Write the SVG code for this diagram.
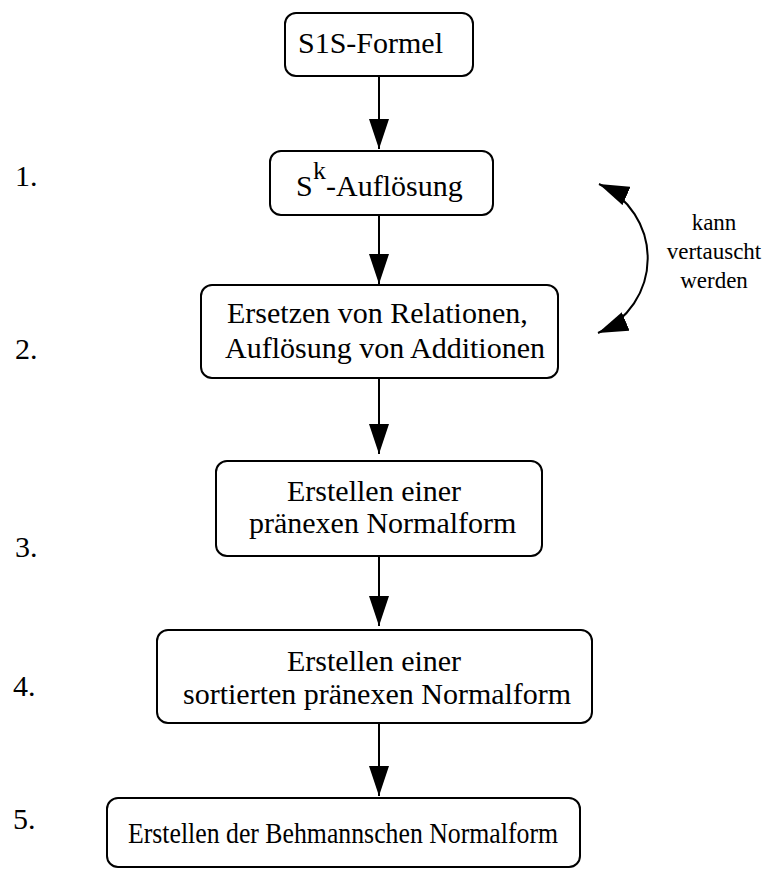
<svg xmlns="http://www.w3.org/2000/svg" width="769" height="869" viewBox="0 0 769 869">
  <style>
    .box { fill: #ffffff; stroke: #000000; stroke-width: 2; }
    .lbl { font-family: "Liberation Serif", "Times New Roman", serif; font-size: 30px; fill: #000000; }
    .num { font-family: "Liberation Serif", "Times New Roman", serif; font-size: 30px; fill: #000000; }
    .note { font-family: "Liberation Serif", "Times New Roman", serif; font-size: 23px; fill: #000000; text-anchor: middle; }
    .edge { fill: none; stroke: #000000; stroke-width: 2; }
  </style>
  <defs>
    <marker id="head" markerUnits="userSpaceOnUse" markerWidth="30" markerHeight="20" viewBox="0 0 30 20" refX="30" refY="10" orient="auto-start-reverse">
      <path d="M0,0 L30,10 L0,20 z" fill="#000000"/>
    </marker>
  </defs>

  <rect width="769" height="869" fill="#ffffff"/>

  <!-- step numbers -->
  <g id="steps">
    <text class="num" x="15" y="186">1.</text>
    <text class="num" x="15" y="359">2.</text>
    <text class="num" x="15" y="557">3.</text>
    <text class="num" x="13" y="696">4.</text>
    <text class="num" x="13" y="829">5.</text>
  </g>

  <g id="n0">
    <rect class="box" x="285" y="13" width="188" height="63" rx="11"/>
    <text class="lbl" x="298" y="53">S1S-Formel</text>
  </g>

  <g id="n1">
    <rect class="box" x="270" y="151" width="223" height="64" rx="11"/>
    <text class="lbl" x="296" y="196">S</text>
    <text class="lbl" x="313" y="179" style="font-size:26px">k</text>
    <text class="lbl" x="326" y="196">-Auflösung</text>
  </g>

  <g id="n2">
    <rect class="box" x="201" y="285" width="357" height="93" rx="11"/>
    <text class="lbl" x="227" y="323">Ersetzen von Relationen,</text>
    <text class="lbl" x="225" y="358">Auflösung von Additionen</text>
  </g>

  <g id="n3">
    <rect class="box" x="216" y="461" width="326" height="95" rx="11"/>
    <text class="lbl" x="287" y="501">Erstellen einer</text>
    <text class="lbl" x="249" y="533">pränexen Normalform</text>
  </g>

  <g id="n4">
    <rect class="box" x="157" y="630" width="435" height="93" rx="11"/>
    <text class="lbl" x="287" y="671">Erstellen einer</text>
    <text class="lbl" x="183" y="704">sortierten pränexen Normalform</text>
  </g>

  <g id="n5">
    <rect class="box" x="107" y="798" width="473" height="69" rx="11"/>
    <text class="lbl" x="128" y="843" textLength="430" lengthAdjust="spacingAndGlyphs">Erstellen der Behmannschen Normalform</text>
  </g>

  <g id="connectors">
    <path class="edge" d="M379,76 L379,149" marker-end="url(#head)"/>
    <path class="edge" d="M379,215 L379,284" marker-end="url(#head)"/>
    <path class="edge" d="M379,378 L379,454" marker-end="url(#head)"/>
    <path class="edge" d="M379,556 L379,626" marker-end="url(#head)"/>
    <path class="edge" d="M379,723 L379,796" marker-end="url(#head)"/>
    <!-- double-headed arc: steps 1 and 2 may be swapped -->
    <path class="edge" d="M599,184 A81,81 0 0 1 598,333" marker-start="url(#head)" marker-end="url(#head)"/>
  </g>

  <g id="swap-note">
    <text class="note" x="714" y="230">kann</text>
    <text class="note" x="714" y="259">vertauscht</text>
    <text class="note" x="714" y="288">werden</text>
  </g>
</svg>
